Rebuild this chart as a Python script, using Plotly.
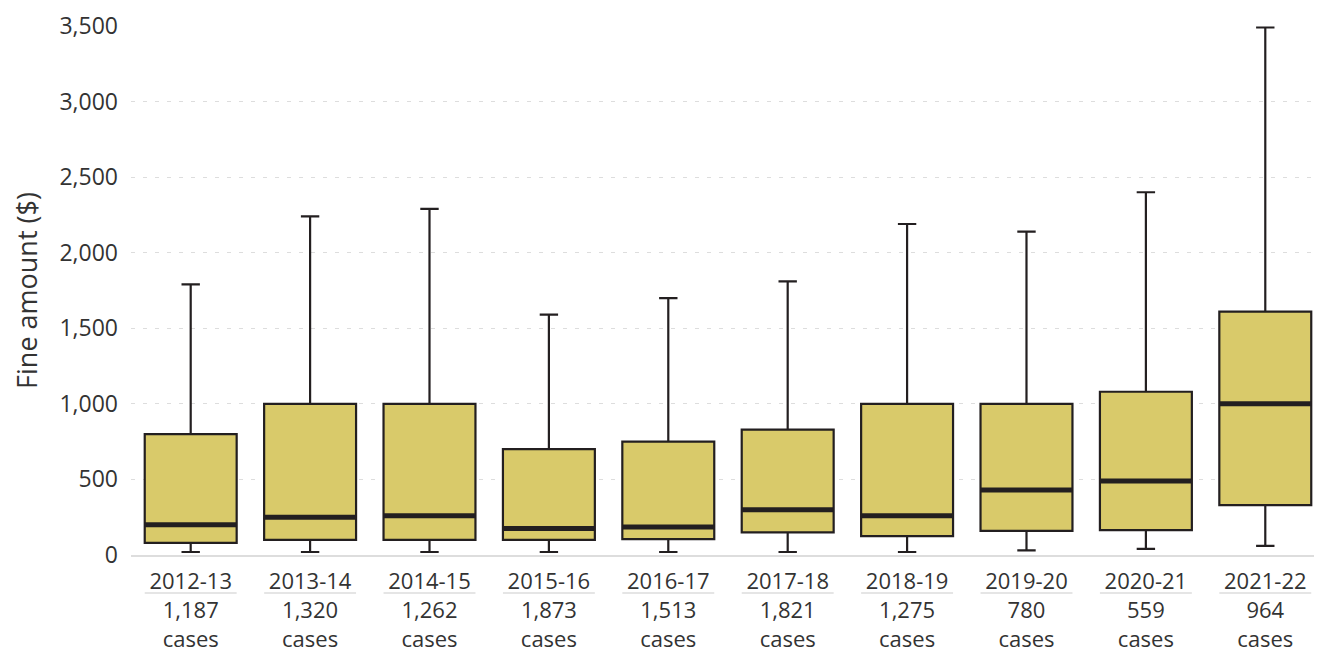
import plotly.graph_objects as go

years = ["2012-13", "2013-14", "2014-15", "2015-16", "2016-17",
         "2017-18", "2018-19", "2019-20", "2020-21", "2021-22"]
cases = ["1,187", "1,320", "1,262", "1,873", "1,513",
         "1,821", "1,275", "780", "559", "964"]
lower = [20, 20, 20, 20, 20, 20, 20, 30, 40, 60]
q1 = [80, 100, 100, 100, 105, 150, 125, 160, 165, 330]
median = [200, 250, 260, 175, 185, 300, 260, 430, 490, 1000]
q3 = [800, 1000, 1000, 700, 750, 830, 1000, 1000, 1080, 1610]
upper = [1790, 2240, 2290, 1590, 1700, 1810, 2190, 2140, 2400, 3490]

FONT = "Open Sans"
DARK = "#231f20"
FILL = "#d9ca6a"
TEXT = "#333333"
BOXW = 0.77

fig = go.Figure()
fig.add_trace(go.Box(
    x=years, q1=q1, median=median, q3=q3,
    lowerfence=lower, upperfence=upper,
    fillcolor=FILL, line=dict(color=DARK, width=2.2),
    whiskerwidth=0.2, width=BOXW, boxpoints=False,
    hoverinfo="skip", showlegend=False,
))

shapes = []
for i, m in enumerate(median):
    shapes.append(dict(type="line", xref="x", yref="y",
                       x0=i - BOXW / 2, x1=i + BOXW / 2, y0=m, y1=m,
                       line=dict(color=DARK, width=5), layer="above"))
    shapes.append(dict(type="line", xref="x", yref="paper",
                       x0=i - BOXW / 2, x1=i + BOXW / 2, y0=-0.072, y1=-0.072,
                       line=dict(color="#dddddd", width=1.5)))

fig.update_layout(
    width=1314, height=640,
    margin=dict(l=123, r=0, t=18, b=93, autoexpand=False),
    plot_bgcolor="white", paper_bgcolor="white",
    font=dict(family=FONT, size=21, color=TEXT),
    shapes=shapes,
    xaxis=dict(
        type="category", range=[-0.5, 9.475], automargin=False,
        tickvals=years,
        ticktext=[f"{y}<br>{c}<br>cases" for y, c in zip(years, cases)],
        tickfont=dict(size=22, color=TEXT),
        showgrid=False, zeroline=False,
        showline=True, linecolor="#dddddd", linewidth=2,
        ticks="", ticklabelstandoff=6,
    ),
    yaxis=dict(
        range=[0, 3500], tickvals=[0, 500, 1000, 1500, 2000, 2500, 3000, 3500],
        tickformat=",", tickfont=dict(size=23, color=TEXT), automargin=False,
        showgrid=True, gridcolor="#dddddd", griddash="4px,8px", gridwidth=1,
        zeroline=False, showline=False, ticks="", ticklabelstandoff=12,
        title=dict(text="Fine amount ($)", font=dict(size=27, color=TEXT), standoff=16),
    ),
)

fig.write_html("out.html")
